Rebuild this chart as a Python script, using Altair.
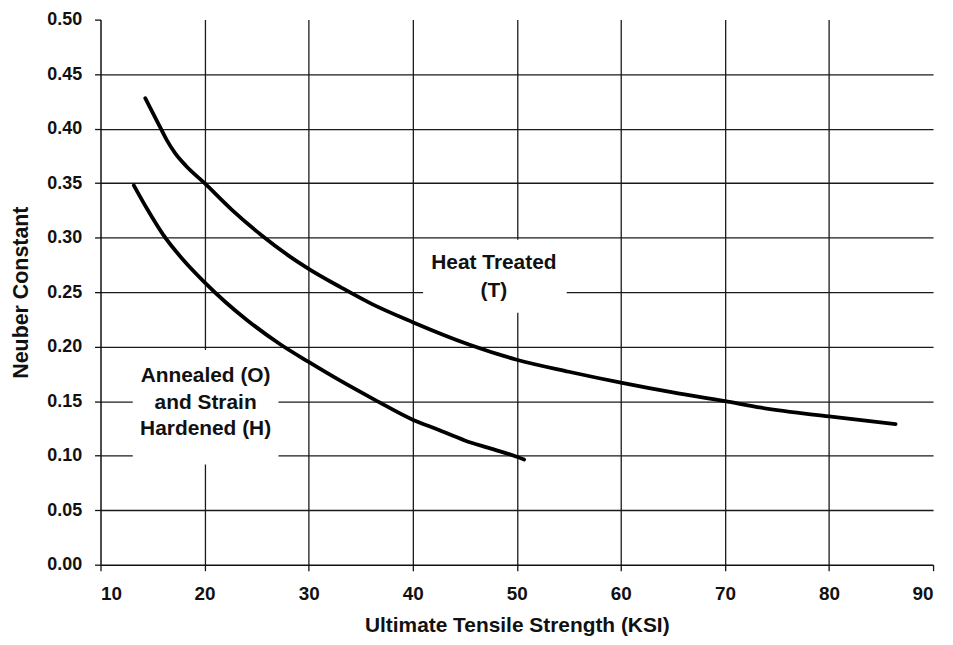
import altair as alt
import pandas as pd

# Heat Treated (T) curve
ht_x = [14.3, 15.0, 15.8, 16.4, 17.2, 18.2, 20.0, 22.6, 25.5, 28.0, 30.0, 33.1, 36.0,
        40.0, 45.4, 50.0, 55.0, 60.0, 65.0, 70.0, 73.5, 80.0, 86.4]
ht_y = [0.428, 0.415, 0.400, 0.389, 0.377, 0.366, 0.350, 0.3258, 0.302, 0.284, 0.2714, 0.2544, 0.2395,
        0.2225, 0.202, 0.188, 0.177, 0.167, 0.158, 0.150, 0.144, 0.136, 0.129]

# Annealed (O) and Strain Hardened (H) curve
an_x = [13.2, 14.5, 16.0, 18.0, 20.0, 22.0, 24.0, 27.3, 30.0, 33.0, 36.4, 40.0,
        42.4, 45.0, 47.7, 50.0, 50.7]
an_y = [0.348, 0.326, 0.303, 0.279, 0.259, 0.241, 0.225, 0.202, 0.186, 0.169, 0.151, 0.133,
        0.124, 0.114, 0.106, 0.099, 0.0965]

x_ticks = [10, 20, 30, 40, 50, 60, 70, 80, 90]
y_ticks = [0.00, 0.05, 0.10, 0.15, 0.20, 0.25, 0.30, 0.35, 0.40, 0.45, 0.50]

# annotation labels
label_text = ["Heat Treated", "(T)", "Annealed (O)", "and Strain", "Hardened (H)"]
label_x = [47.8, 47.8, 20.1, 20.1, 20.1]
label_y = [0.277, 0.251, 0.1727, 0.1486, 0.1243]

# white boxes behind the annotation labels
box_x1 = [41.0, 13.1]
box_x2 = [54.8, 27.1]
box_y1 = [0.231, 0.092]
box_y2 = [0.298, 0.197]

FONT = "Liberation Sans"

curves = pd.concat([
    pd.DataFrame({"x": ht_x, "y": ht_y, "series": "Heat Treated (T)", "order": range(len(ht_x))}),
    pd.DataFrame({"x": an_x, "y": an_y, "series": "Annealed (O) and Strain Hardened (H)", "order": range(len(an_x))}),
])
labels = pd.DataFrame({"text": label_text, "x": label_x, "y": label_y})
boxes = pd.DataFrame({"x1": box_x1, "x2": box_x2, "y1": box_y1, "y2": box_y2})

grid_hide = {"condition": {"test": "datum.value >= 89.9 || datum.value <= 10.01", "value": 0}, "value": 1}
grid_hide_y = {"condition": {"test": "datum.value >= 0.499 || datum.value <= 0.001", "value": 0}, "value": 1}

x_scale = alt.Scale(domain=[10, 90], nice=False, zero=False)
y_scale = alt.Scale(domain=[0, 0.5], nice=False)

x_axis = alt.Axis(
    values=x_ticks, title="Ultimate Tensile Strength (KSI)", format="d",
    grid=True, gridColor="#1a1a1a", gridWidth=1.3, gridOpacity=grid_hide,
    labelFont=FONT, labelFontSize=19, labelFontWeight="bold", labelColor="#111",
    labelPadding=14, tickSize=6, tickColor="#111", tickWidth=1.3,
    domainColor="#111", domainWidth=1.5,
    titleFont=FONT, titleFontSize=21, titleFontWeight="bold", titleColor="#111",
    titlePadding=11,
)
y_axis = alt.Axis(
    values=y_ticks, title="Neuber Constant", format=".2f",
    grid=True, gridColor="#1a1a1a", gridWidth=1.3, gridOpacity=grid_hide_y,
    labelFont=FONT, labelFontSize=18, labelFontWeight="bold", labelColor="#111",
    labelPadding=13, tickSize=6, tickColor="#111", tickWidth=1.3,
    domainColor="#111", domainWidth=1.5,
    titleFont=FONT, titleFontSize=21.5, titleFontWeight="bold", titleColor="#111",
    titlePadding=14,
)

lines = alt.Chart(curves).mark_line(
    color="#000", strokeWidth=3.8, interpolate="monotone", strokeCap="round"
).encode(
    x=alt.X("x:Q", scale=x_scale, axis=x_axis),
    y=alt.Y("y:Q", scale=y_scale, axis=y_axis),
    detail="series:N",
    order="order:Q",
)

rects = alt.Chart(boxes).mark_rect(color="white").encode(
    x=alt.X("x1:Q", scale=x_scale), x2="x2:Q",
    y=alt.Y("y1:Q", scale=y_scale), y2="y2:Q",
)

texts = alt.Chart(labels).mark_text(
    font=FONT, fontSize=21, fontWeight="bold", color="#111", align="center", baseline="middle"
).encode(
    x=alt.X("x:Q", scale=x_scale), y=alt.Y("y:Q", scale=y_scale), text="text:N"
)

chart = alt.layer(lines, rects, texts).properties(
    width=837, height=548,
    autosize=alt.AutoSizeParams(type="none"),
    padding={"left": 93, "top": 10, "right": 12, "bottom": 70},
    background="white",
).configure_view(stroke=None)

chart.save("out.html", embed_options={"renderer": "svg", "actions": False})
